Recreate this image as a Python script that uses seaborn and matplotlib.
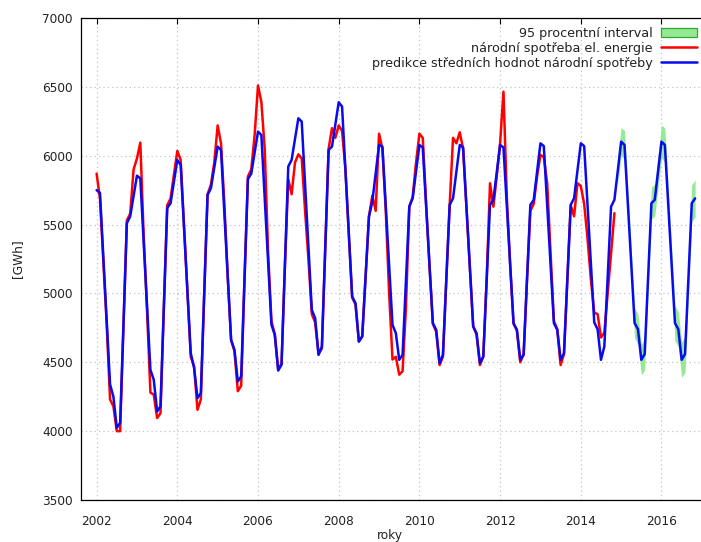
import numpy as np
import pandas as pd
import matplotlib
matplotlib.use("Agg")
import matplotlib.pyplot as plt
import seaborn as sns
from matplotlib.patches import Patch
from matplotlib.lines import Line2D

FIRST_YEAR = 2002

# monthly national electricity consumption [GWh], Jan 2002 .. Nov 2014
spotreba = [
    5870, 5690, 5240, 4780, 4230, 4180, 4000, 4000, 4770, 5530, 5580, 5900,
    5980, 6095, 5420, 4880, 4280, 4265, 4095, 4130, 4900, 5640, 5690, 5860,
    6035, 5970, 5490, 5000, 4540, 4470, 4155, 4230, 4990, 5720, 5790, 5950,
    6220, 6090, 5650, 5120, 4660, 4580, 4290, 4330, 5110, 5850, 5900, 6150,
    6510, 6390, 6050, 5300, 4800, 4700, 4450, 4490, 5200, 5830, 5720, 5950,
    6010, 5980, 5600, 5250, 4850, 4790, 4560, 4600, 5330, 6050, 6200, 6130,
    6220, 6180, 5900, 5430, 4970, 4920, 4650, 4690, 5120, 5560, 5710, 5600,
    6160, 6050, 5600, 5000, 4520, 4540, 4410, 4435, 4900, 5630, 5700, 5950,
    6160, 6130, 5650, 5200, 4780, 4720, 4480, 4540, 5100, 5640, 6130, 6090,
    6170, 6050, 5620, 5190, 4760, 4700, 4480, 4540, 5100, 5800, 5630, 5850,
    6090, 6465, 5700, 5200, 4780, 4730, 4500, 4560, 5100, 5600, 5650, 5850,
    6006, 5990, 5800, 5300, 4800, 4740, 4480, 4560, 5100, 5640, 5560, 5800,
    5780, 5650, 5400, 5100, 4860, 4850, 4680, 4715, 5000, 5290, 5583,
]

# predicted mean consumption [GWh], Jan 2002 .. Nov 2016
predikce = [
    5750, 5730, 5267, 4803, 4340, 4250, 4025, 4060, 4785, 5510, 5560, 5708,
    5855, 5835, 5372, 4909, 4446, 4373, 4143, 4180, 4900, 5620, 5655, 5812,
    5969, 5933, 5478, 5022, 4567, 4458, 4240, 4276, 4996, 5715, 5764, 5915,
    6066, 6042, 5582, 5122, 4663, 4591, 4361, 4397, 5114, 5830, 5870, 6022,
    6175, 6150, 5691, 5231, 4772, 4700, 4440, 4482, 5202, 5921, 5970, 6121,
    6272, 6248, 5792, 5337, 4881, 4820, 4554, 4615, 5329, 6042, 6066, 6227,
    6388, 6357, 5897, 5437, 4978, 4929, 4651, 4687, 5123, 5558, 5667, 5873,
    6078, 6066, 5635, 5203, 4772, 4711, 4518, 4554, 5093, 5631, 5691, 5885,
    6078, 6060, 5635, 5209, 4784, 4736, 4494, 4554, 5099, 5643, 5691, 5885,
    6078, 6060, 5627, 5193, 4760, 4711, 4494, 4542, 5093, 5643, 5679, 5879,
    6078, 6060, 5635, 5209, 4784, 4736, 4518, 4554, 5099, 5643, 5679, 5885,
    6090, 6070, 5641, 5213, 4784, 4736, 4518, 4566, 5105, 5643, 5691, 5890,
    6090, 6070, 5643, 5217, 4790, 4740, 4518, 4615, 5123, 5630, 5680, 5891,
    6102, 6078, 5647, 5216, 4785, 4740, 4518, 4560, 5108, 5655, 5680, 5891,
    6102, 6078, 5647, 5216, 4785, 4740, 4518, 4560, 5108, 5655, 5690,
]

# half width of the 95 % interval [GWh], Dec 2014 .. Nov 2016
interval_start = 155
interval_pulsirka = [
    100, 102, 104, 105, 107, 108, 110, 111, 113, 114, 116, 117,
    119, 120, 122, 123, 125, 126, 128, 129, 131, 132, 134, 135,
]

x_ticks = [2002, 2004, 2006, 2008, 2010, 2012, 2014, 2016]
y_ticks = [3500, 4000, 4500, 5000, 5500, 6000, 6500, 7000]

lbl_interval = "95 procentní interval"
lbl_spotreba = "národní spotřeba el. energie"
lbl_predikce = "predikce středních hodnot národní spotřeby"

RED = "#ff0000"
BLUE = "#0a0aee"
GREEN_FILL = "#94ea94"
GREEN_EDGE = "#2eaa2e"
TEXT = "#222222"

sns.set_style("white")
plt.rcParams["font.family"] = ["DejaVu Sans"]
plt.rcParams["font.size"] = 8.7

df_red = pd.DataFrame({
    "rok": FIRST_YEAR + np.arange(len(spotreba)) / 12.0,
    "GWh": spotreba,
})
df_blue = pd.DataFrame({
    "rok": FIRST_YEAR + np.arange(len(predikce)) / 12.0,
    "GWh": predikce,
})
band_idx = np.arange(interval_start, len(predikce))
band_x = FIRST_YEAR + band_idx / 12.0
band_mid = np.asarray(predikce, dtype=float)[band_idx]
band_hw = np.asarray(interval_pulsirka, dtype=float)[: len(band_idx)]

W, H = 701, 542
fig = plt.figure(figsize=(W / 100, H / 100), dpi=100)
ax_l, ax_r, ax_t, ax_b = 81, 701, 18, 500
ax = fig.add_axes([ax_l / W, (H - ax_b) / H, (ax_r - ax_l) / W, (ax_b - ax_t) / H])

px_per_year = 40.35
x0_px = 96.6
xmin = FIRST_YEAR + (ax_l - x0_px) / px_per_year
xmax = FIRST_YEAR + (ax_r - x0_px) / px_per_year

ax.fill_between(band_x, band_mid - band_hw, band_mid + band_hw,
                color=GREEN_FILL, lw=0, zorder=2)
sns.lineplot(data=df_red, x="rok", y="GWh", ax=ax, color=RED, lw=1.8,
             estimator=None, sort=False, zorder=3)
sns.lineplot(data=df_blue, x="rok", y="GWh", ax=ax, color=BLUE, lw=1.8,
             estimator=None, sort=False, zorder=4)

ax.set_xlim(xmin, xmax)
ax.set_ylim(3500, 7000)
ax.set_xticks(x_ticks)
ax.set_yticks(y_ticks)
ax.set_xticklabels([str(t) for t in x_ticks])
ax.set_yticklabels([str(t) for t in y_ticks])

ax.grid(True, color="#c4c4c4", linestyle=(0, (1, 2.5)), linewidth=0.9)
ax.set_axisbelow(True)
for side in ["left", "bottom", "top"]:
    ax.spines[side].set_visible(True)
    ax.spines[side].set_color("black")
    ax.spines[side].set_linewidth(0.9)
ax.spines["right"].set_visible(False)

ax.tick_params(axis="both", which="major", direction="in", length=4.3,
               width=0.8, colors="black", labelcolor=TEXT,
               labelsize=8.7, top=True, right=False)
ax.tick_params(axis="x", pad=11)
ax.tick_params(axis="y", pad=6)

ax.set_xlabel("roky", fontsize=8.7, color=TEXT)
ax.set_ylabel("[GWh]", fontsize=8.7, color=TEXT)
ax.xaxis.set_label_coords((390 - ax_l) / (ax_r - ax_l), (ax_b - 536) / (ax_b - ax_t))
ax.xaxis.label.set_va("center")
ax.yaxis.set_label_coords((18 - ax_l) / (ax_r - ax_l), 0.5)
ax.yaxis.label.set_va("center")

handles = [
    Patch(facecolor=GREEN_FILL, edgecolor=GREEN_EDGE, linewidth=0.9),
    Line2D([], [], color=RED, lw=1.8),
    Line2D([], [], color=BLUE, lw=1.8),
]
leg = ax.legend(handles, [lbl_interval, lbl_spotreba, lbl_predikce],
                loc="upper right", bbox_to_anchor=(697 / W, 1 - 27 / H),
                bbox_transform=fig.transFigure, markerfirst=False,
                frameon=False, fontsize=9.2, handlelength=2.85,
                handleheight=0.7, handletextpad=0.6, labelspacing=0.15,
                borderpad=0, borderaxespad=0)
for t in leg.get_texts():
    t.set_color(TEXT)

fig.savefig("out.png", dpi=100)
